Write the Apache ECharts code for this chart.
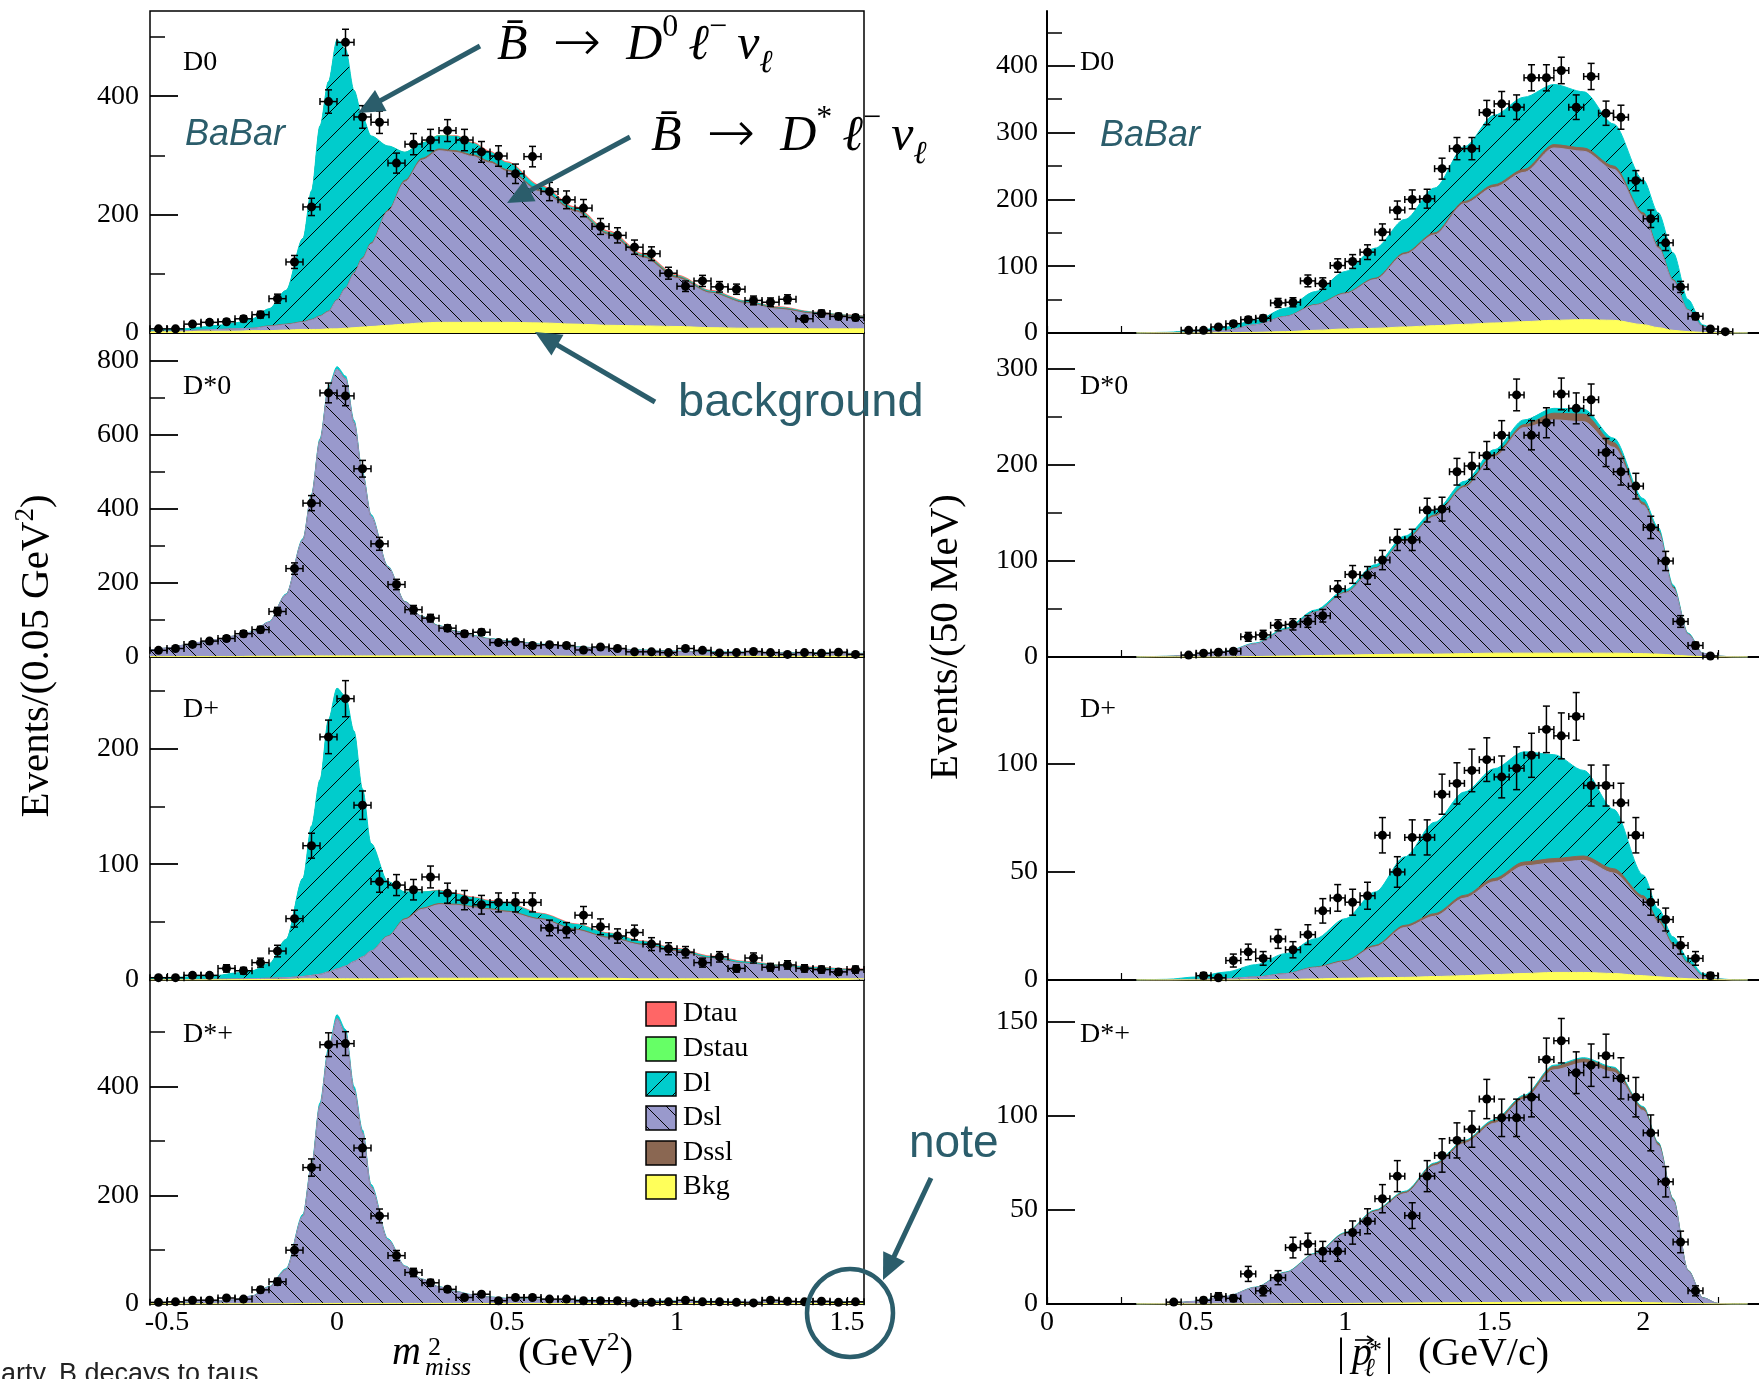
<!DOCTYPE html>
<html>
<head>
<meta charset="utf-8">
<script src="https://cdn.jsdelivr.net/npm/echarts@6/dist/echarts.min.js"></script>
<style>
  html, body { margin: 0; padding: 0; background: #fff; }
  #chart { width: 1759px; height: 1379px; }
</style>
</head>
<body>
<div id="chart"></div>
<script>
// ---------------- binning ----------------
// m^2_miss histograms: 42 bins of 0.05 GeV^2 from -0.55 to 1.55
const massFirstBin = -0.525, massBinWidth = 0.05, massBinCount = 42;
// |p*_l| histograms: 38 bins of 50 MeV starting at 0.4 GeV/c
const momFirstBin = 0.425, momBinWidth = 0.05, momBinCount = 38;

// abscissae at which the fitted components are tabulated
const massGrid = [-0.55,-0.5,-0.45,-0.4,-0.35,-0.3,-0.25,-0.2,-0.15,-0.1,-0.075,-0.05,-0.025,0,0.025,0.05,0.075,0.1,0.15,0.2,0.25,0.3,0.35,0.4,0.45,0.5,0.6,0.7,0.8,0.9,1.0,1.1,1.2,1.3,1.4,1.5,1.55];
const momGrid = [0.3,0.4,0.5,0.6,0.7,0.8,0.9,1.0,1.1,1.2,1.3,1.4,1.5,1.6,1.7,1.8,1.9,2.0,2.05,2.1,2.15,2.2,2.25,2.3,2.35];

// ---------------- observed events ----------------
const d0MassData   = [7,7,15,18,19,24,31,58,120,213,391,491,365,356,287,319,326,342,326,306,299,269,298,239,225,211,180,165,145,134,101,79,88,78,74,55,52,57,24,33,28,26];
const dst0MassData = [18,23,34,43,50,63,74,123,239,416,714,706,509,306,196,128,105,78,63,67,39,41,31,33,31,19,27,23,14,14,12,23,18,11,12,15,12,7,12,10,13,7];
const dpMassData   = [2,2,4,4,10,8,15,25,53,116,210,243,151,85,82,78,89,75,69,65,67,67,67,45,43,56,46,38,41,31,27,24,15,20,10,19,11,13,10,9,7,9];
const dstpMassData = [3,4,7,7,11,9,26,41,99,251,477,479,287,162,89,58,39,27,12,18,6,12,12,9,9,6,6,6,2,3,4,7,4,4,3,2,7,5,4,5,3,4];

const d0MomData   = [null,4,4,9,14,20,22,45,46,78,74,101,107,121,151,184,200,201,246,276,276,330,343,338,382,382,393,338,384,329,323,228,171,135,69,25,6,2];
const dst0MomData = [null,2,4,5,6,21,23,33,34,37,43,71,86,85,101,122,122,153,154,193,199,210,231,273,231,244,274,259,268,213,193,178,135,100,37,12,1,null];
const dpMomData   = [null,null,2,1,9,13,10,19,14,21,32,38,36,39,67,50,66,66,86,91,97,102,94,98,104,116,113,122,90,90,82,67,36,28,16,10,2,null];
const dstpMomData = [1,null,2,4,3,16,7,14,30,32,28,28,38,44,56,68,47,68,79,87,93,109,99,99,110,130,140,123,127,132,120,110,91,65,33,7,null,null];

// ---------------- fitted components (events per bin), on massGrid ----------------
const d0MassBkg   = [2,2,2,3,3,3,4,4,5,6,6,6,7,7,8,9,10,11,13,15,17,18,18,18,18,18,17,15,13,12,11,9,8,8,7,7,7];
const d0MassDsl   = [1,1,2,2,3,4,4,7,9,12,16,22,29,48,67,91,115,139,192,240,275,290,287,280,269,255,221,190,152,115,81,58,42,32,25,20,18];
const d0MassDssl  = [0,0,0,0,0,0,0,1,1,1,1,1,1,1,1,2,2,2,2,3,3,3,3,3,3,3,3,3,3,3,3,2,2,2,2,2,2];
const d0MassDl    = [1.5,3,3,5,7,10,16,29,57,141,217,321,388,439,404,308,238,181,109,47.5,26,22,24,19,15,11,5.5,2.5,1.5,1.5,1,1.5,1.5,1,1,1,1];
const d0MassDstau = [0,0,0,0,0,0,0,0,0,0,0,0,0,0,0,0,0,0,0,0.5,1,1,1,1,1,1,1,1,1,1,1,0.5,0.5,0.5,0.5,0.5,0.5];
const d0MassDtau  = [0,0,0,0,0,0,0,0,0,0,0,0,0,0,0,0,0,0,0,0,0,0.5,1,1.5,2,2,2.5,2.5,2.5,2.5,2,2,1.5,1.5,1,1,1];

const dst0MassBkg  = [1,1,1,1,1,1,2,2,2,3,3,3,3,3,3,3,3,3,3,3,3,3,3,3,3,3,3,2,2,2,2,2,2,2,2,2,2];
const dst0MassDsl  = [17,23,31,39,46,56,65,92,166,314,433,582,721,775,750,631,492,378,240,145,105,80,65,53,45,39,30,24,19,15,12,10,9,8,7,6,6];
const dst0MassDssl = [0,0,0,0,0,0,0,0,0,0,0,0,0,0,0,0,0,0,0,1,1,1,1,1,1,1,1,1,1,1,1,1,1,1,1,1,1];
const dst0MassDl   = [0,0,0,0,0,0,1,1,2,3,4,5,6,7,7,6,5,4,2,1,1,1,1,1,1,1,1,1,1,1,1,1,1,1,1,1,1];

const dpMassBkg   = [0.1,0.1,0.1,0.1,0.2,0.3,0.4,0.5,0.5,1,1,1,1,1,1,1,1,1,1,1.5,1.5,1.5,1.5,1.5,1.5,1.5,1.5,1.5,1.5,1,1,1,1,1,1,1,1];
const dpMassDsl   = [0.2,0.2,0.3,0.4,0.5,0.6,0.8,1,1.5,2,3,4,6,8.5,11,15,19,24,36.5,50.5,59.5,63.5,63,61,59,57,50.5,41.5,34.5,29,23.5,17.5,13,10.5,8.5,7,6.5];
const dpMassDssl  = [0,0,0,0,0,0,0,0,0,0,0,0,0,0,0,0,0,0,0.5,1,1,1,1,1,1,1,1,1,1,1,1,0.5,0.5,0.5,0.5,0.5,0.5];
const dpMassDl    = [1.2,1.7,2.1,2.5,3.3,5.1,6.8,12.5,33,85,129,168,218,242.5,233,199,145,93,47,23,14,11,8.5,7.5,6.5,6.5,4,4,3,2,1,1,1,0.7,0.7,0.7,0.7];
const dpMassDstau = [0,0,0,0,0,0,0,0,0,0,0,0,0,0,0,0,0,0,0,0.3,0.3,0.3,0.3,0.3,0.3,0.3,0.3,0.3,0.3,0.3,0.3,0.3,0.3,0.3,0.3,0.3,0.3];
const dpMassDtau  = [0,0,0,0,0,0,0,0,0,0,0,0,0,0,0,0,0,0,0,0,0,0.6,0.8,0.8,0.8,0.8,0.8,0.8,0.8,0.8,0.8,0.8,0.8,0.6,0.6,0.6,0.6];

const dstpMassBkg  = [0.3,0.3,0.3,0.3,0.3,0.3,0.5,0.5,0.5,1,1,1,1,1,1,1,1,1,1,1,1,1,1,1,1,1,1,1,0.8,0.8,0.8,0.8,0.8,0.8,0.8,0.8,0.8];
const dstpMassDsl  = [2.2,2.7,3.2,4.2,5.2,7.7,14,30.5,62.5,161,250,364,463,524,497,393,314,215,117,68,44.2,30.2,21.2,15.2,11.2,8.7,6.7,5.7,4.9,4.4,3.9,3.4,3.2,2.9,2.6,2.4,2.4];
const dstpMassDssl = [0,0,0,0,0,0,0,0,0,0,0,0,0,0,0,0,0,0,0,0,0.3,0.3,0.3,0.3,0.3,0.3,0.3,0.3,0.3,0.3,0.3,0.3,0.3,0.3,0.3,0.3,0.3];
const dstpMassDl   = [0,0,0,0,0,0,0.5,1,2,3,4,5,6,7,7,6,5,4,2,1,0.5,0.5,0.5,0.5,0.5,0.5,0.5,0.5,0.5,0.5,0.5,0.5,0.5,0.5,0.5,0.5,0.5];

// ---------------- fitted components, on momGrid ----------------
const d0MomBkg  = [0,0,0,0.5,1,2,4,6,7,9,11,13,15,17,19,20,19,12.5,8,4,2,1,0.2,0,0];
const d0MomDsl  = [0,0.5,1.5,3.5,11.5,22.5,37.5,52.5,73,108.5,136,180.5,203,223.5,258,252,226,163.5,119,74,32,8.5,1.3,0.2,0];
const d0MomDssl = [0,0,0,0,0,0.5,1,1.5,2,2.5,3,3.5,4,4.5,5,5,5,4,3,2,1,0.5,0,0,0];
const d0MomDl   = [0,0.5,2.5,5,6.5,12,19.5,32,45,50,67,82,104,108,90,84,63,49,50,40,15,2,0,0.1,0];

const dst0MomBkg  = [0,0,0,0,0.5,1,1.5,2,2.5,3,3,3.5,4,4,4,4,4,3.5,3,2,1,0.5,0,0,0];
const dst0MomDsl  = [0,0.6,2.2,5.6,13.3,27,45,64.5,89.5,118,143,173,204.5,235,243,241,214.5,154.5,127,69.5,22.5,3.2,0.9,0.2,0];
const dst0MomDssl = [0,0,0,0,0,0.5,0.5,1,1,1.5,2,2,2.5,3,7,8,5,3,2,1.5,0.5,0,0,0,0];
const dst0MomDl   = [0,0.1,0.2,0.4,0.8,1.5,2,2.5,3,3.5,4,4.5,5,5,5,5,4.5,4,3,2,1,0.3,0.1,0,0];

const dpMomBkg  = [0,0,0,0,0.1,0.3,0.5,0.8,1,1.2,1.6,2,2.5,3,3.5,3.5,3,2,1.5,1,0.6,0.3,0.1,0,0];
const dpMomDsl  = [0,0,0.3,0.6,1.3,2.6,5.2,7.7,14.3,23.1,27.9,35.9,43,49.8,50.7,51.9,46.5,35.5,25.3,15,6.9,1.5,0.3,0,0];
const dpMomDssl = [0,0,0,0,0,0.1,0.3,0.5,0.7,1,1.2,1.3,1.5,1.8,2,2,2,1.5,1.2,1,0.5,0.2,0,0,0];
const dpMomDl   = [0,0.3,1.1,3.1,5.7,9.2,13.1,19.4,24.7,31.7,42.3,47.8,50.8,51,48.1,39.6,27.5,9.5,5,3,2,1,0.2,0.1,0];

const dstpMomBkg  = [0,0,0,0,0,0.1,0.2,0.3,0.4,0.5,0.6,0.7,0.8,0.9,1,1,1,0.8,0.6,0.4,0.2,0.1,0,0,0];
const dstpMomDsl  = [0,0.2,1.4,3.9,8.7,16.4,26.2,36.8,48.6,58.2,72.9,84.7,95.3,108,123.5,127.3,122.3,102.1,83.7,54.4,17.3,3.1,0.3,0,0];
const dstpMomDssl = [0,0,0,0,0.1,0.2,0.3,0.5,0.6,0.8,1,1.1,1.3,1.5,1.8,2,2,1.5,1.2,0.8,0.3,0.1,0,0,0];
const dstpMomDl   = [0,0,0.1,0.1,0.2,0.3,0.3,0.4,0.4,0.5,0.5,0.5,0.6,0.6,0.7,0.7,0.7,0.6,0.5,0.4,0.2,0.1,0,0,0];

// ---------------- axis ticks ----------------
const massTicks = [-0.5,-0.25,0,0.25,0.5,0.75,1,1.25,1.5];
const massLabels = [-0.5,0,0.5,1,1.5];
const momTicks = [0,0.25,0.5,0.75,1,1.25,1.5,1.75,2,2.25];
const momLabels = [0,0.5,1,1.5,2];

const panelNames = ['D0', 'D*0', 'D+', 'D*+'];
const legendNames = ['Dtau', 'Dstau', 'Dl', 'Dsl', 'Dssl', 'Bkg'];

// ---------------- styling ----------------
const SERIF = 'Liberation Serif';
const SANS = 'Liberation Sans';
const TEAL = '#2b5d6b';
const compColor = { bkg: '#ffff5a', dsl: '#9999cc', dssl: '#8a6752', dl: '#00cccc', dstau: '#66ff66', dtau: '#ff6666' };

function hatch(bg, dir, p) {
  const c = document.createElement('canvas');
  c.width = p; c.height = p;
  const g = c.getContext('2d');
  g.fillStyle = bg; g.fillRect(0, 0, p, p);
  g.strokeStyle = '#000'; g.lineWidth = 1;
  g.beginPath();
  if (dir === '/') {
    g.moveTo(-1, p + 1); g.lineTo(p + 1, -1);
    g.moveTo(-1, 1); g.lineTo(1, -1);
    g.moveTo(p - 1, p + 1); g.lineTo(p + 1, p - 1);
  } else {
    g.moveTo(-1, -1); g.lineTo(p + 1, p + 1);
    g.moveTo(p - 1, -1); g.lineTo(p + 1, 1);
    g.moveTo(-1, p - 1); g.lineTo(1, p + 1);
  }
  g.stroke();
  return { image: c, repeat: 'repeat' };
}
const compFill = {
  bkg: compColor.bkg, dsl: hatch(compColor.dsl, '\\', 20), dssl: compColor.dssl,
  dl: hatch(compColor.dl, '/', 26), dstau: compColor.dstau, dtau: compColor.dtau
};

// ---------------- panel layout ----------------
const rowTop = [11, 333, 657, 980];
const rowBottom = [333, 657, 980, 1304];
const colLeft = [150, 1047];
const colWidth = [714, 712];

const panels = [
  { col: 0, row: 0, data: d0MassData,   comps: { bkg: d0MassBkg, dsl: d0MassDsl, dssl: d0MassDssl, dl: d0MassDl, dstau: d0MassDstau, dtau: d0MassDtau }, yMax: 544, major: [0,200,400], minor: [100,300,500] },
  { col: 0, row: 1, data: dst0MassData, comps: { bkg: dst0MassBkg, dsl: dst0MassDsl, dssl: dst0MassDssl, dl: dst0MassDl }, yMax: 876, major: [0,200,400,600,800], minor: [100,300,500,700] },
  { col: 0, row: 2, data: dpMassData,   comps: { bkg: dpMassBkg, dsl: dpMassDsl, dssl: dpMassDssl, dl: dpMassDl, dstau: dpMassDstau, dtau: dpMassDtau }, yMax: 279, major: [0,100,200], minor: [50,150,250] },
  { col: 0, row: 3, data: dstpMassData, comps: { bkg: dstpMassBkg, dsl: dstpMassDsl, dssl: dstpMassDssl, dl: dstpMassDl }, yMax: 596, major: [0,200,400], minor: [100,300,500] },
  { col: 1, row: 0, data: d0MomData,   comps: { bkg: d0MomBkg, dsl: d0MomDsl, dssl: d0MomDssl, dl: d0MomDl }, yMax: 482, major: [0,100,200,300,400], minor: [50,150,250,350,450] },
  { col: 1, row: 1, data: dst0MomData, comps: { bkg: dst0MomBkg, dsl: dst0MomDsl, dssl: dst0MomDssl, dl: dst0MomDl }, yMax: 337.5, major: [0,100,200,300], minor: [50,150,250] },
  { col: 1, row: 2, data: dpMomData,   comps: { bkg: dpMomBkg, dsl: dpMomDsl, dssl: dpMomDssl, dl: dpMomDl }, yMax: 149.5, major: [0,50,100], minor: [] },
  { col: 1, row: 3, data: dstpMomData, comps: { bkg: dstpMomBkg, dsl: dstpMomDsl, dssl: dstpMomDssl, dl: dstpMomDl }, yMax: 172.3, major: [0,50,100,150], minor: [] }
];
// bottom-to-top order of the fit components
const stackOrder = ['bkg', 'dsl', 'dssl', 'dl', 'dstau', 'dtau'];

// data points with Poisson (sqrt N) uncertainties and half-bin x errors
function renderPoint(params, api) {
  const x = api.value(0), y = api.value(1), ex = api.value(2), ey = api.value(3);
  const c = api.coord([x, y]);
  const xl = api.coord([x - ex, y])[0], xr = api.coord([x + ex, y])[0];
  const yt = api.coord([x, y + ey])[1], yb = api.coord([x, Math.max(0, y - ey)])[1];
  const s = { stroke: '#000', lineWidth: 1.5 };
  const cap = 3.5;
  return { type: 'group', children: [
    { type: 'line', shape: { x1: xl, y1: c[1], x2: xr, y2: c[1] }, style: s },
    { type: 'line', shape: { x1: xl, y1: c[1] - cap, x2: xl, y2: c[1] + cap }, style: s },
    { type: 'line', shape: { x1: xr, y1: c[1] - cap, x2: xr, y2: c[1] + cap }, style: s },
    { type: 'line', shape: { x1: c[0], y1: yt, x2: c[0], y2: yb }, style: s },
    { type: 'line', shape: { x1: c[0] - cap, y1: yt, x2: c[0] + cap, y2: yt }, style: s },
    { type: 'line', shape: { x1: c[0] - cap, y1: yb, x2: c[0] + cap, y2: yb }, style: s },
    { type: 'circle', shape: { cx: c[0], cy: c[1], r: 4.5 }, style: { fill: '#000' } }
  ]};
}

const grids = [], xAxes = [], yAxes = [], series = [];
panels.forEach((p, i) => {
  const isMass = p.col === 0;
  grids.push({
    left: colLeft[p.col], width: colWidth[p.col],
    top: rowTop[p.row], height: rowBottom[p.row] - rowTop[p.row],
    show: isMass, borderColor: '#000', borderWidth: 1.5, backgroundColor: 'transparent'
  });
  xAxes.push({
    type: 'value', gridIndex: i, position: 'bottom',
    min: isMass ? -0.55 : 0, max: isMass ? 1.55 : 2.388,
    axisLine: { show: true, onZero: false, lineStyle: { color: '#000', width: isMass ? 1.5 : 2 } },
    axisTick: { show: true, inside: true, length: 7, customValues: isMass ? massTicks : momTicks, lineStyle: { color: '#000', width: 1.2 } },
    axisLabel: { show: p.row === 3, customValues: isMass ? massLabels : momLabels, fontFamily: SERIF, fontSize: 28, color: '#000', margin: 5 },
    splitLine: { show: false }
  });
  yAxes.push({
    type: 'value', gridIndex: i, position: 'left', min: 0, max: p.yMax,
    axisLine: { show: !isMass, onZero: false, lineStyle: { color: '#000', width: 2 } },
    axisTick: { show: true, inside: true, length: 28, customValues: p.major, lineStyle: { color: '#000', width: 1.8 } },
    axisLabel: { customValues: p.major, fontFamily: SERIF, fontSize: 28, color: '#000', margin: isMass ? 11 : 9 },
    splitLine: { show: false }
  });
  yAxes.push({
    type: 'value', gridIndex: i, position: 'left', min: 0, max: p.yMax,
    axisLine: { show: false, onZero: false },
    axisTick: { show: p.minor.length > 0, inside: true, length: 15, customValues: p.minor, lineStyle: { color: '#000', width: 1.5 } },
    axisLabel: { show: false },
    splitLine: { show: false }
  });

  // cumulative sums of the components; each layer is filled from zero and the
  // layers are painted top-down so that every lower layer covers the one above
  const xs = isMass ? massGrid : momGrid;
  const layers = [];
  let run = xs.map(() => 0);
  stackOrder.forEach(k => {
    const vals = p.comps[k];
    if (!vals) return;
    run = run.map((v, j) => v + vals[j]);
    layers.push({ k: k, cum: run.slice() });
  });
  layers.reverse().forEach(layer => {
    const k = layer.k;
    const tau = (k === 'dstau' || k === 'dtau');
    series.push({
      type: 'line', name: k, xAxisIndex: i, yAxisIndex: 2 * i,
      data: xs.map((x, j) => [x, layer.cum[j]]),
      symbol: 'none', smooth: 0.3, smoothMonotone: 'x',
      lineStyle: { width: tau ? 0 : 1, color: compColor[k] },
      itemStyle: { color: compColor[k] },
      areaStyle: { color: compFill[k], opacity: 1 },
      silent: true, z: 2
    });
  });

  const first = isMass ? massFirstBin : momFirstBin;
  const width = isMass ? massBinWidth : momBinWidth;
  const n = isMass ? massBinCount : momBinCount;
  const pts = [];
  for (let b = 0; b < n; b++) {
    const v = p.data[b];
    if (v === null || v === undefined) continue;
    const x = +(first + b * width).toFixed(4);
    pts.push([x, v, width / 2, Math.sqrt(v)]);
  }
  series.push({
    type: 'custom', xAxisIndex: i, yAxisIndex: 2 * i,
    dimensions: ['x', 'y', 'ex', 'ey'], encode: { x: 0, y: 1 },
    renderItem: renderPoint, data: pts, z: 10, silent: true, clip: false
  });
});

// ---------------- annotations ----------------
const G = [];
function text(x, y, str, o) {
  G.push({ type: 'text', x: x, y: y, z: 100, silent: true,
    style: Object.assign({ text: str, fill: '#000', font: 'normal 28px ' + SERIF, align: 'left', verticalAlign: 'middle' }, o || {}) });
}
function arrow(x1, y1, x2, y2) {
  const dx = x2 - x1, dy = y2 - y1, L = Math.hypot(dx, dy), ux = dx / L, uy = dy / L;
  const len = 26, half = 12;
  const bx = x2 - ux * len, by = y2 - uy * len;
  G.push({ type: 'line', z: 100, silent: true, shape: { x1: x1, y1: y1, x2: bx + ux * 3, y2: by + uy * 3 }, style: { stroke: TEAL, lineWidth: 5 } });
  G.push({ type: 'polygon', z: 100, silent: true, shape: { points: [[x2, y2], [bx - uy * half, by + ux * half], [bx + uy * half, by - ux * half]] }, style: { fill: TEAL } });
}

// channel labels
const labelY = [63, 387, 710, 1035];
panelNames.forEach((nm, r) => { text(183, labelY[r], nm); text(1080, labelY[r], nm); });

// experiment tag
text(185, 135, 'BaBar', { font: 'italic 36px ' + SANS, fill: TEAL });
text(1100, 136, 'BaBar', { font: 'italic 36px ' + SANS, fill: TEAL });

// decay formulas
const GRAY = '#808080';
const fRich = {
  it:  { fontFamily: SERIF, fontStyle: 'italic', fontSize: 50, color: GRAY, lineHeight: 68, verticalAlign: 'middle' },
  ar:  { fontFamily: 'DejaVu Sans', fontSize: 58, fontWeight: 200, color: GRAY, lineHeight: 68, verticalAlign: 'middle' },
  sp:  { fontFamily: SERIF, fontSize: 50, color: GRAY, lineHeight: 68, verticalAlign: 'middle' },
  sup: { fontFamily: SERIF, fontSize: 32, color: GRAY, lineHeight: 38, verticalAlign: 'top' },
  sub: { fontFamily: SERIF, fontStyle: 'italic', fontSize: 32, color: GRAY, lineHeight: 30, verticalAlign: 'bottom' }
};
G.push({ type: 'text', x: 497, y: 46, z: 100, silent: true, style: {
  text: '{it|B\u0304}{sp|\u2002}{ar|\u2192}{sp|\u2002}{it|D}{sup|0}{sp|\u2009}{it|\u2113}{sup|\u2212}{sp|\u2009}{it|\u03bd}{sub|\u2113}',
  rich: fRich, align: 'left', verticalAlign: 'middle' } });
G.push({ type: 'text', x: 651, y: 137, z: 100, silent: true, style: {
  text: '{it|B\u0304}{sp|\u2002}{ar|\u2192}{sp|\u2002}{it|D}{sup|*}{sp|\u2009}{it|\u2113}{sup|\u2212}{sp|\u2009}{it|\u03bd}{sub|\u2113}',
  rich: fRich, align: 'left', verticalAlign: 'middle' } });

arrow(480, 46, 358, 113);
arrow(630, 137, 507, 203);
arrow(655, 402, 535, 332);
arrow(931, 1178, 883, 1280);
text(678, 403, 'background', { font: 'normal 47px ' + SANS, fill: TEAL });
text(909, 1144, 'note', { font: 'normal 46px ' + SANS, fill: TEAL });
G.push({ type: 'ellipse', z: 100, silent: true, shape: { cx: 850, cy: 1313, rx: 43, ry: 44 }, style: { fill: 'none', stroke: TEAL, lineWidth: 4.5 } });

// legend
const legendKeys = ['dtau', 'dstau', 'dl', 'dsl', 'dssl', 'bkg'];
const legendTop = [1002, 1037, 1072, 1106, 1141, 1175];
legendKeys.forEach((k, i) => {
  G.push({ type: 'rect', z: 100, silent: true, shape: { x: 646, y: legendTop[i], width: 30, height: 24 },
    style: { fill: compFill[k], stroke: '#000', lineWidth: 1.5 } });
  text(683, legendTop[i] + 12, legendNames[i]);
});

// axis titles
text(392, 1353, 'm', { font: 'italic 40px ' + SERIF });
text(428, 1348, '2', { font: 'normal 26px ' + SERIF });
text(425, 1368, 'miss', { font: 'italic 26px ' + SERIF });
G.push({ type: 'text', x: 518, y: 1354, z: 100, silent: true, style: {
  text: '{a|(GeV}{s|2}{a|)}', align: 'left', verticalAlign: 'middle',
  rich: { a: { fontFamily: SERIF, fontSize: 40, color: '#000', lineHeight: 48, verticalAlign: 'middle' },
          s: { fontFamily: SERIF, fontSize: 26, color: '#000', lineHeight: 28, verticalAlign: 'top' } } } });

text(1337, 1354, '|', { font: 'normal 40px ' + SERIF });
text(1352, 1354, 'p', { font: 'italic 40px ' + SERIF });
G.push({ type: 'line', z: 100, silent: true, shape: { x1: 1355, y1: 1340, x2: 1372, y2: 1340 }, style: { stroke: '#000', lineWidth: 1.6 } });
G.push({ type: 'polyline', z: 100, silent: true, shape: { points: [[1367, 1336], [1373, 1340], [1367, 1344]] }, style: { stroke: '#000', lineWidth: 1.6, fill: 'none' } });
text(1369, 1351, '*', { font: 'normal 26px ' + SERIF });
text(1364, 1369, '\u2113', { font: 'italic 26px ' + SERIF });
text(1385, 1354, '|', { font: 'normal 40px ' + SERIF });
text(1418, 1354, '(GeV/c)', { font: 'normal 40px ' + SERIF });

G.push({ type: 'text', x: 37, y: 656, rotation: Math.PI / 2, z: 100, silent: true, style: {
  text: '{a|Events/(0.05 GeV}{s|2}{a|)}', align: 'center', verticalAlign: 'middle',
  rich: { a: { fontFamily: SERIF, fontSize: 41, color: '#000', lineHeight: 50, verticalAlign: 'middle' },
          s: { fontFamily: SERIF, fontSize: 27, color: '#000', lineHeight: 30, verticalAlign: 'top' } } } });
G.push({ type: 'text', x: 946, y: 637, rotation: Math.PI / 2, z: 100, silent: true, style: {
  text: 'Events/(50 MeV)', font: 'normal 41px ' + SERIF, fill: '#000', align: 'center', verticalAlign: 'middle' } });

// footnote
text(1, 1375, 'arty. B decays to taus', { font: 'normal 27px ' + SANS, fill: '#222' });

const chart = echarts.init(document.getElementById('chart'), null, { renderer: 'canvas' });
chart.setOption({
  animation: false,
  backgroundColor: '#fff',
  textStyle: { fontFamily: SERIF },
  grid: grids,
  xAxis: xAxes,
  yAxis: yAxes,
  series: series,
  graphic: { elements: G }
});
</script>
</body>
</html>
